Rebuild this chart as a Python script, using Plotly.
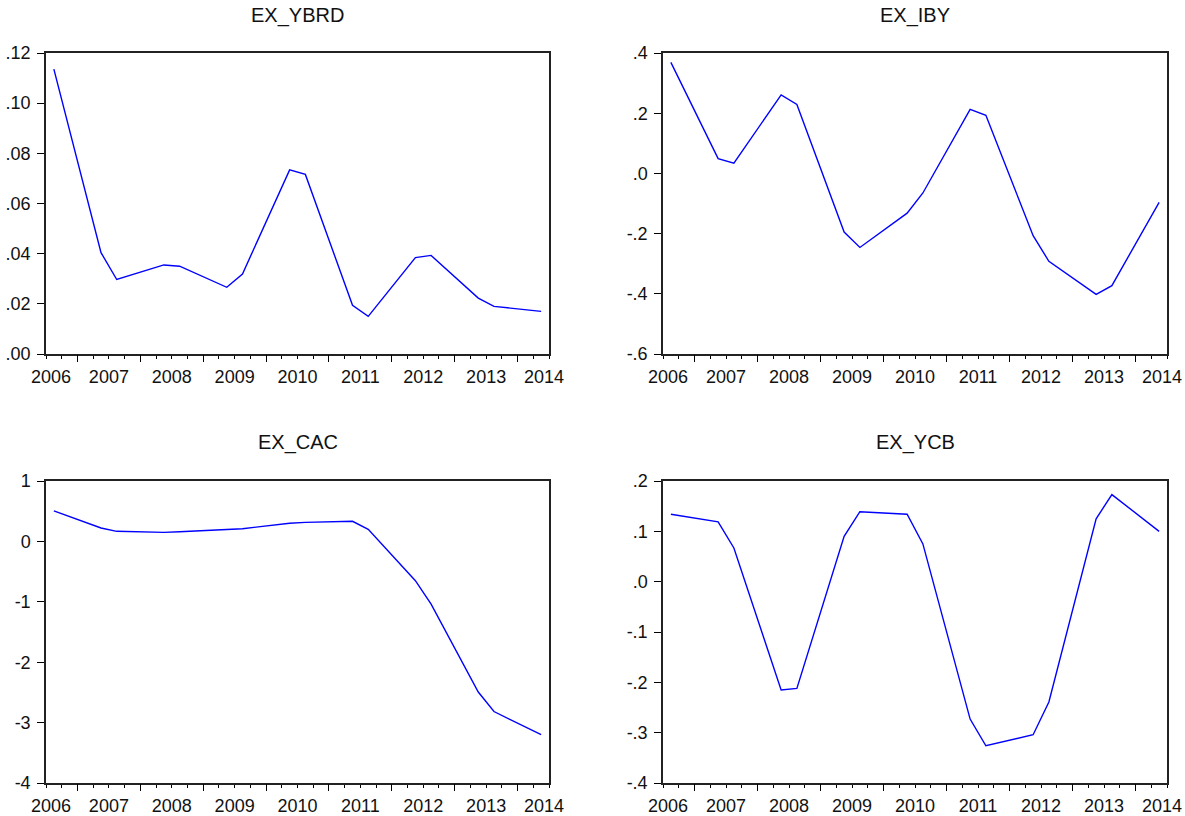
import plotly.graph_objects as go

# Quarterly observations 2006Q1 .. 2013Q4 (32 values each)
quarters = [f"{y}Q{q}" for y in range(2006, 2014) for q in range(1, 5)]

ex_ybrd = [0.1136, 0.0892, 0.0648, 0.0404,
           0.0297, 0.0316, 0.0336, 0.0355,
           0.0350, 0.0322, 0.0294, 0.0266,
           0.0319, 0.0457, 0.0596, 0.0734,
           0.0716, 0.0542, 0.0368, 0.0194,
           0.0150, 0.0228, 0.0306, 0.0384,
           0.0393, 0.0336, 0.0280, 0.0223,
           0.0190, 0.0183, 0.0177, 0.0170]

ex_iby = [0.369, 0.262, 0.156, 0.049,
          0.034, 0.110, 0.185, 0.261,
          0.229, 0.088, -0.054, -0.195,
          -0.246, -0.208, -0.170, -0.132,
          -0.065, 0.028, 0.120, 0.213,
          0.193, 0.060, -0.074, -0.207,
          -0.292, -0.329, -0.365, -0.402,
          -0.373, -0.281, -0.188, -0.096]

ex_cac = [0.506, 0.411, 0.317, 0.222,
          0.167, 0.161, 0.156, 0.150,
          0.160, 0.173, 0.187, 0.200,
          0.210, 0.240, 0.270, 0.300,
          0.315, 0.321, 0.327, 0.333,
          0.200, -0.083, -0.367, -0.650,
          -1.039, -1.524, -2.009, -2.494,
          -2.817, -2.945, -3.072, -3.200]

ex_ycb = [0.134, 0.129, 0.124, 0.119,
          0.067, -0.027, -0.121, -0.215,
          -0.212, -0.111, -0.011, 0.090,
          0.139, 0.137, 0.136, 0.134,
          0.075, -0.041, -0.157, -0.273,
          -0.326, -0.319, -0.311, -0.304,
          -0.239, -0.118, 0.004, 0.125,
          0.173, 0.149, 0.124, 0.100]

titles = ["EX_YBRD", "EX_IBY", "EX_CAC", "EX_YCB"]

year_ticks = list(range(2006, 2015))
year_labels = [str(y) for y in year_ticks]
# end labels are nudged inward (as in the original chart) with padding spaces
tick_text = ["\u00a0\u00a0" + year_labels[0]] + year_labels[1:-1] + \
            [year_labels[-1] + "\u00a0\u00a0"]

ytick_vals = [
    [0.00, 0.02, 0.04, 0.06, 0.08, 0.10, 0.12],
    [-0.6, -0.4, -0.2, 0.0, 0.2, 0.4],
    [-4, -3, -2, -1, 0, 1],
    [-0.4, -0.3, -0.2, -0.1, 0.0, 0.1, 0.2],
]
ytick_text = [
    [".00", ".02", ".04", ".06", ".08", ".10", ".12"],
    ["-.6", "-.4", "-.2", ".0", ".2", ".4"],
    ["-4", "-3", "-2", "-1", "0", "1"],
    ["-.4", "-.3", "-.2", "-.1", ".0", ".1", ".2"],
]
y_ranges = [[0.0, 0.12], [-0.6, 0.4], [-4, 1], [-0.4, 0.2]]

series = [ex_ybrd, ex_iby, ex_cac, ex_ycb]

# time position of each quarter (centre of quarter)
def qpos(label):
    y, q = label.split("Q")
    return int(y) + (int(q) - 0.5) / 4.0

xpos = [qpos(q) for q in quarters]

W, H = 1185, 816
col_px = [(46, 549), (663, 1167)]
row_px = [(53, 354), (481, 783)]
title_px = [15, 443]

FONT = "Liberation Sans, Arial, sans-serif"
TICK_SIZE = 18
TITLE_SIZE = 20
fig = go.Figure()
layout = dict(
    width=W, height=H,
    margin=dict(l=0, r=0, t=0, b=0, autoexpand=False),
    paper_bgcolor="white", plot_bgcolor="white",
    showlegend=False,
    font=dict(family=FONT, size=TICK_SIZE, color="#111"),
)
annotations = []

for k in range(4):
    r, c = divmod(k, 2)
    n = k + 1
    xa = "x" if n == 1 else f"x{n}"
    ya = "y" if n == 1 else f"y{n}"
    xkey = "xaxis" if n == 1 else f"xaxis{n}"
    ykey = "yaxis" if n == 1 else f"yaxis{n}"
    xd = [col_px[c][0] / W, col_px[c][1] / W]
    yd = [1 - row_px[r][1] / H, 1 - row_px[r][0] / H]

    fig.add_trace(go.Scatter(x=xpos, y=series[k], mode="lines",
                             line=dict(color="#0000FF", width=1.4),
                             xaxis=xa, yaxis=ya, hoverinfo="skip"))

    layout[xkey] = dict(
        domain=xd, anchor=ya, range=[2006, 2014], automargin=False,
        tickmode="array", tickvals=year_ticks, ticktext=tick_text,
        ticks="outside", ticklen=3, tickwidth=1, tickcolor="#000",
        ticklabelstandoff=3, ticklabeloverflow="allow",
        minor=dict(tickmode="linear", tick0=2006, dtick=0.25,
                   ticks="outside", ticklen=3, tickwidth=1, tickcolor="#000"),
        showline=True, linecolor="#222", linewidth=1.5, mirror=True,
        showgrid=False, zeroline=False, fixedrange=True,
        tickfont=dict(family=FONT, size=TICK_SIZE, color="#111"),
    )
    layout[ykey] = dict(
        domain=yd, anchor=xa, range=y_ranges[k], automargin=False,
        tickmode="array", tickvals=ytick_vals[k], ticktext=ytick_text[k],
        ticks="outside", ticklen=7, tickwidth=1, tickcolor="#000",
        ticklabelstandoff=3, ticklabeloverflow="allow",
        showline=True, linecolor="#222", linewidth=1.5, mirror=True,
        showgrid=False, zeroline=False, fixedrange=True,
        tickfont=dict(family=FONT, size=TICK_SIZE, color="#111"),
    )

    # overlay axis carrying the longer mid-year ticks
    m = n + 4
    okey = f"xaxis{m}"
    layout[okey] = dict(
        overlaying=xa, anchor=ya, side="bottom", range=[2006, 2014],
        automargin=False,
        tickmode="array", tickvals=[y + 0.5 for y in range(2006, 2014)],
        showticklabels=False, ticks="outside", ticklen=7, tickwidth=1,
        tickcolor="#000", showline=False, showgrid=False, zeroline=False,
        fixedrange=True,
    )
    fig.add_trace(go.Scatter(x=[2006, 2014], y=[None, None], mode="lines",
                             xaxis=f"x{m}", yaxis=ya, hoverinfo="skip",
                             showlegend=False))

    annotations.append(dict(
        text=titles[k], xref="paper", yref="paper",
        x=(xd[0] + xd[1]) / 2, y=1 - title_px[r] / H,
        xanchor="center", yanchor="middle", showarrow=False,
        font=dict(family=FONT, size=TITLE_SIZE, color="#111"),
    ))

layout["annotations"] = annotations
fig.update_layout(**layout)
fig.write_html(
    "out.html",
    config={"displayModeBar": False},
    post_script="document.body.style.margin='0';"
                "document.body.style.overflow='hidden';",
)
